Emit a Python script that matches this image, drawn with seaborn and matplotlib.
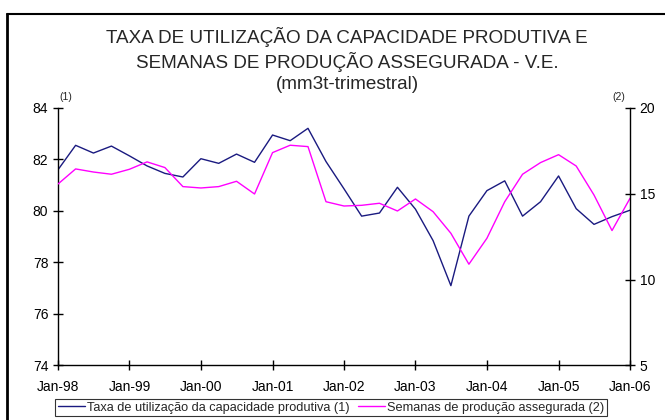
import matplotlib

matplotlib.use("Agg")
import matplotlib.dates as mdates
import matplotlib.pyplot as plt
import numpy as np
import pandas as pd
import seaborn as sns
from matplotlib.lines import Line2D

# quarterly data, Jan-98 .. Jan-06
quarters = pd.date_range("1998-01-01", "2006-01-01", freq="QS")

taxa = [81.6, 82.55, 82.25, 82.52, 82.14, 81.75, 81.46, 81.32,
        82.03, 81.85, 82.21, 81.89, 82.95, 82.73, 83.21, 81.92,
        80.86, 79.8, 79.92, 80.92, 80.07, 78.85, 77.1, 79.8,
        80.79, 81.17, 79.8, 80.36, 81.36, 80.09, 79.48, 79.78, 80.03]

semanas = [15.57, 16.45, 16.27, 16.14, 16.43, 16.86, 16.53, 15.42,
           15.34, 15.42, 15.73, 14.99, 17.4, 17.83, 17.75, 14.54,
           14.29, 14.33, 14.45, 14.0, 14.7, 13.96, 12.7, 10.9,
           12.41, 14.54, 16.14, 16.82, 17.28, 16.62, 14.93, 12.86, 14.74]

label_taxa = "Taxa de utilização da capacidade produtiva (1)"
label_sem = "Semanas de produção assegurada (2)"
title = ("TAXA DE UTILIZAÇÃO DA CAPACIDADE PRODUTIVA E\n"
         "SEMANAS DE PRODUÇÃO ASSEGURADA - V.E.\n"
         "(mm3t-trimestral)")

df = pd.DataFrame({"data": quarters, "taxa": taxa, "semanas": semanas})

sns.set_style("white")
plt.rcParams["font.family"] = ["Liberation Sans", "DejaVu Sans"]

fig = plt.figure(figsize=(6.65, 4.2), dpi=100)
ax = fig.add_axes([0.0872, 0.1298, 0.9474 - 0.0872, 0.7429 - 0.1298])
ax2 = ax.twinx()

sns.lineplot(data=df, x="data", y="taxa", ax=ax, color="#1a1a80", linewidth=1.0)
sns.lineplot(data=df, x="data", y="semanas", ax=ax2, color="#ff00ff", linewidth=1.0)

ax.set_ylim(74, 84)
ax.set_yticks([74, 76, 78, 80, 82, 84])
ax2.set_ylim(5, 20)
ax2.set_yticks([5, 10, 15, 20])
ax.set_xlim(quarters[0], quarters[-1])
ax.xaxis.set_major_locator(mdates.YearLocator())
ax.xaxis.set_major_formatter(mdates.DateFormatter("%b-%y"))

for a in (ax, ax2):
    a.set_xlabel("")
    a.set_ylabel("")
    a.spines["top"].set_visible(False)
    for s in a.spines.values():
        s.set_color("black")
        s.set_linewidth(1.0)
ax.spines["right"].set_visible(False)
ax2.spines["left"].set_visible(False)
ax2.spines["bottom"].set_visible(False)

ax.tick_params(axis="both", direction="inout", length=7, width=1, colors="black",
               labelsize=10, left=True, bottom=True)
ax.tick_params(axis="x", pad=7)
ax2.tick_params(axis="y", direction="inout", length=7, width=1, colors="black",
                labelsize=10, right=True)

fig.text(0.522, 1 - 60 / 420, title, ha="center", va="center", fontsize=13.6,
         linespacing=1.33)
fig.text(66 / 665, 1 - 97 / 420, "(1)", ha="center", va="center", fontsize=7.5)
fig.text(619 / 665, 1 - 97 / 420, "(2)", ha="center", va="center", fontsize=7.5)

handles = [Line2D([], [], color="#1a1a80", lw=1.0), Line2D([], [], color="#ff00ff", lw=1.0)]
leg = fig.legend(handles, [label_taxa, label_sem], loc="center", ncol=2,
                 bbox_to_anchor=(0.498, 1 - 407.5 / 420), fontsize=9.2, frameon=True,
                 fancybox=False, edgecolor="black", borderpad=0.2, handlelength=2.1,
                 handletextpad=0.2, columnspacing=0.6, borderaxespad=0)
leg.get_frame().set_linewidth(0.8)

# outer frame of the original chart object
fig.add_artist(Line2D([6.5 / 665, 6.5 / 665], [0, 1 - 14 / 420], color="black", lw=2.0))
fig.add_artist(Line2D([6.5 / 665, 1], [1 - 14 / 420, 1 - 14 / 420], color="black", lw=1.5))

fig.savefig("out.png", dpi=100)
